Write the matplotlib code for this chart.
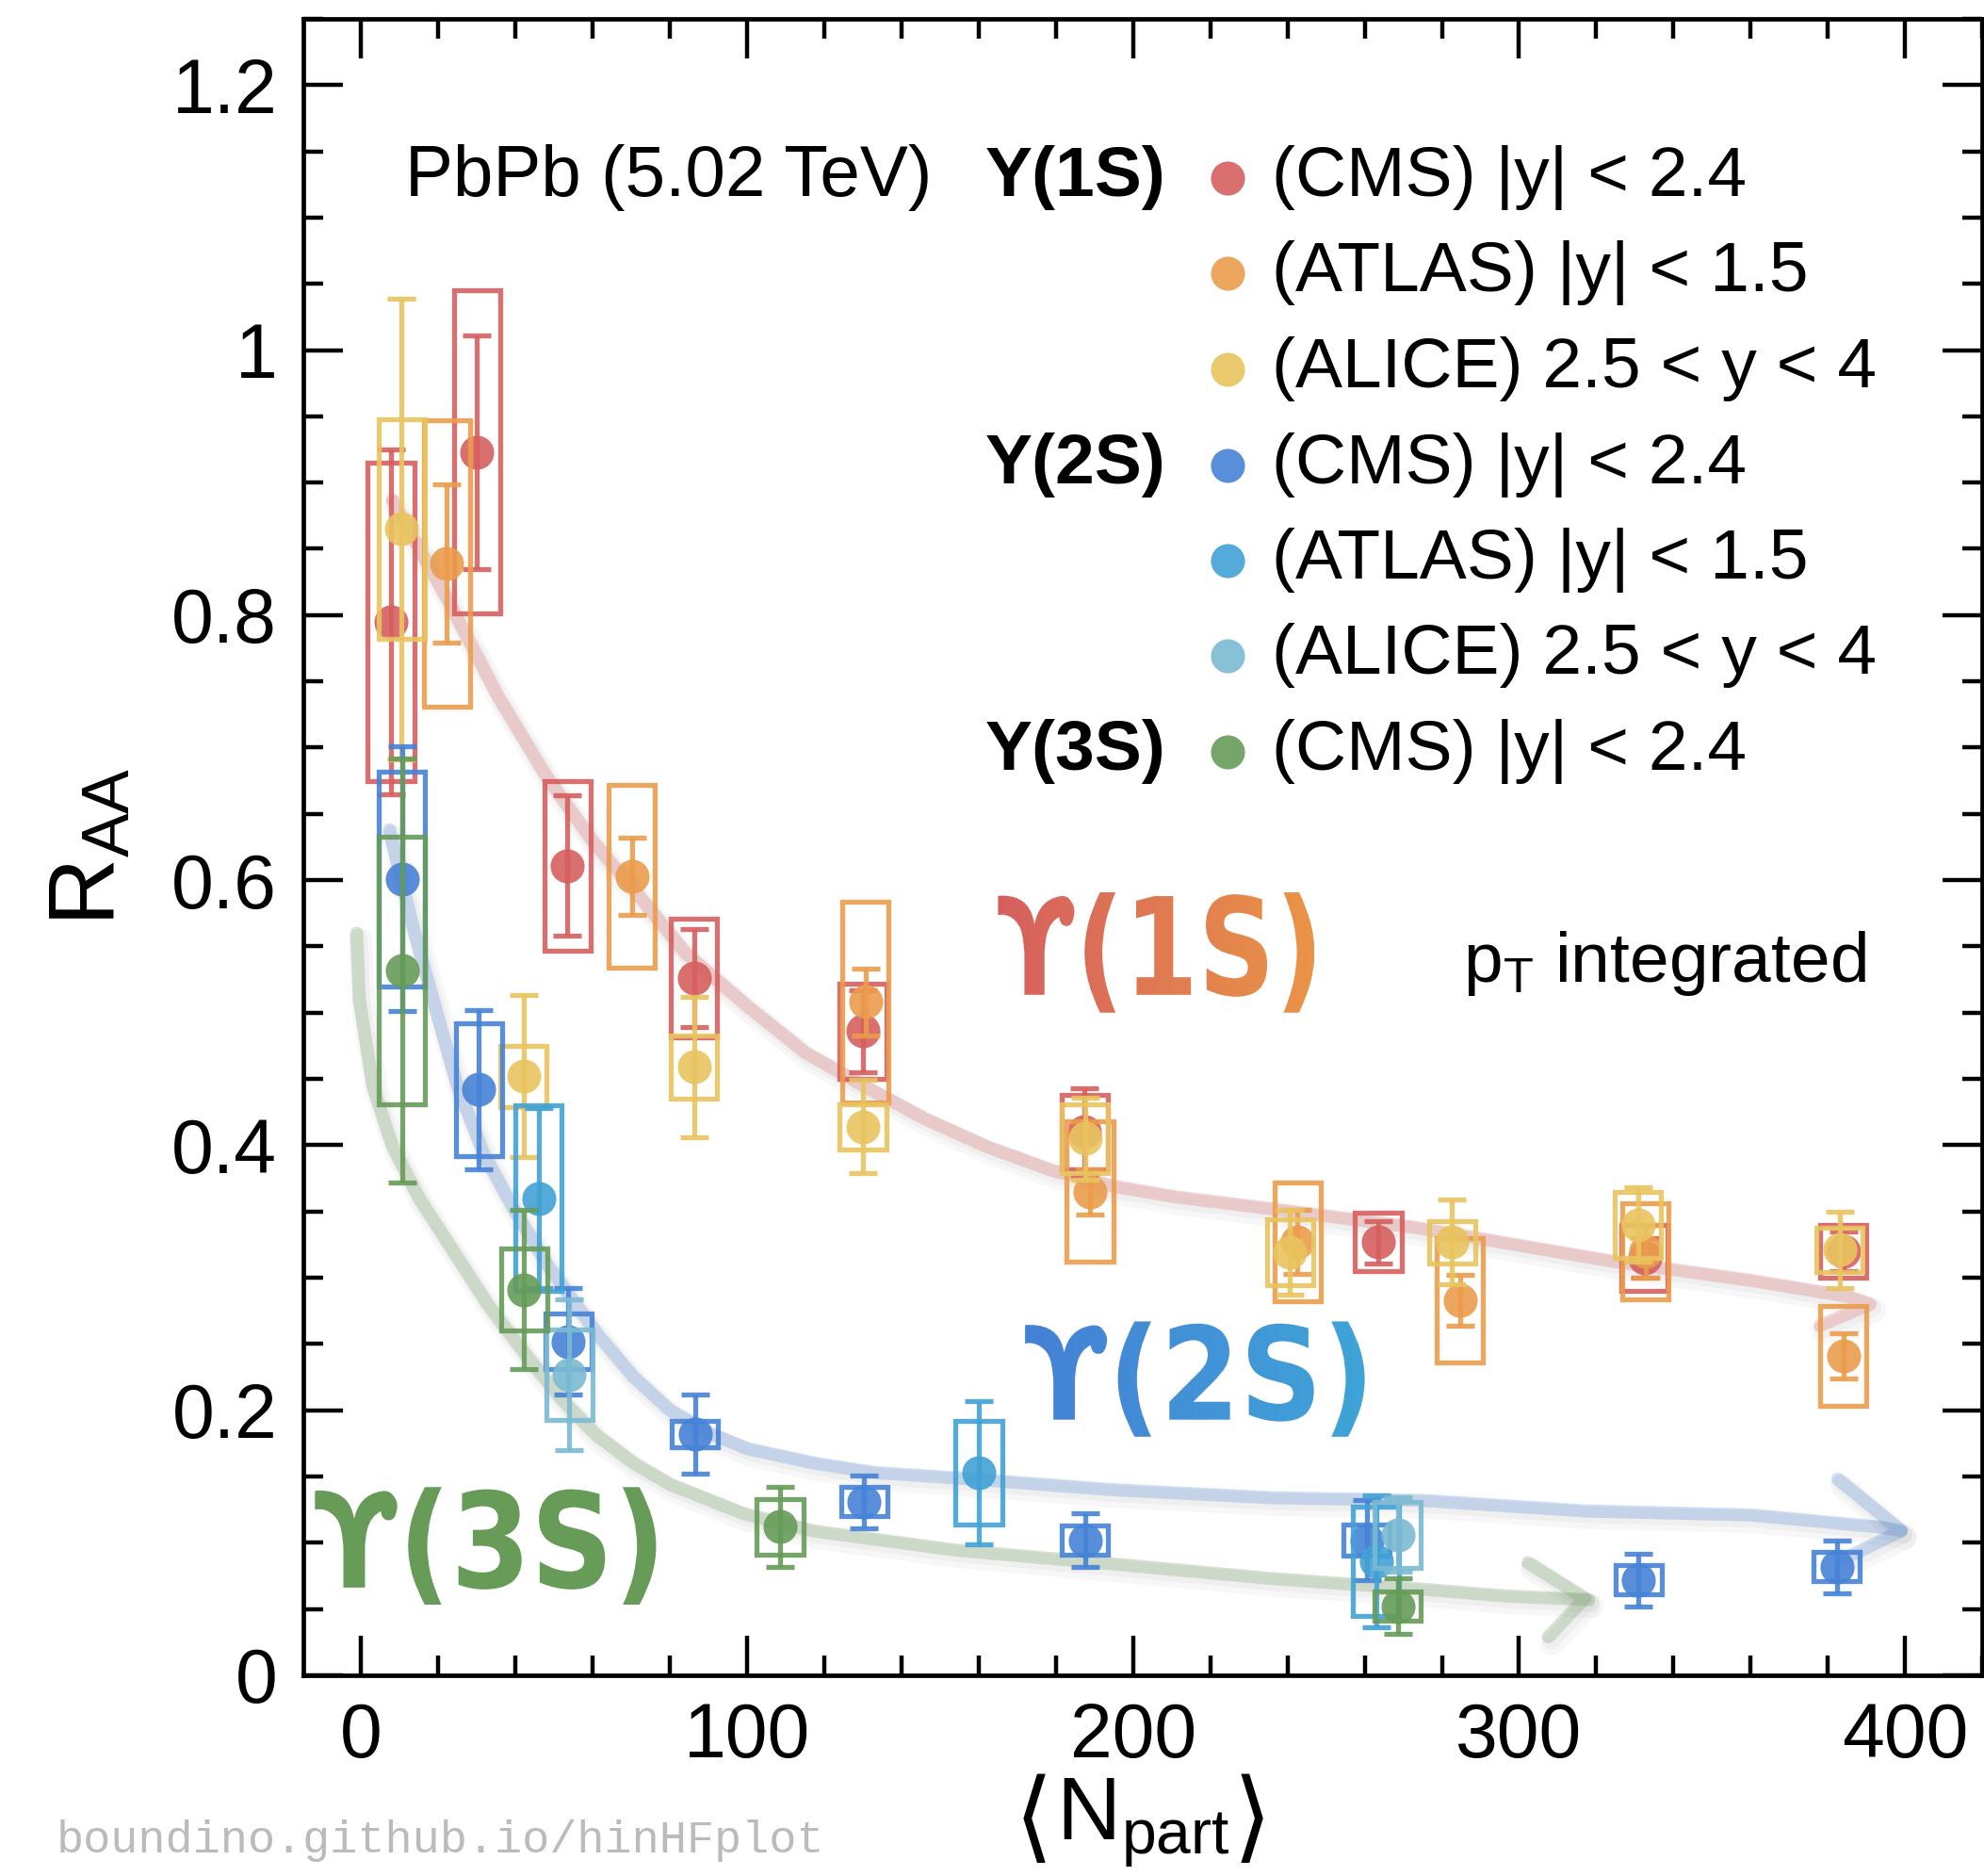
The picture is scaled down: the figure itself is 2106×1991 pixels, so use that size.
import numpy as np
import matplotlib
matplotlib.use("Agg")
import matplotlib.pyplot as plt
import matplotlib.patheffects as pe
from matplotlib.patches import Rectangle, PathPatch
from matplotlib.ticker import MultipleLocator, FormatStrFormatter
from matplotlib.textpath import TextPath
from matplotlib.font_manager import FontProperties
from matplotlib.transforms import Affine2D, BboxTransformTo, Bbox
from matplotlib.colors import LinearSegmentedColormap

plt.rcParams['font.family'] = ['Liberation Sans', 'DejaVu Sans']
plt.rcParams['mathtext.fontset'] = 'custom'
plt.rcParams['mathtext.rm'] = 'Liberation Sans'
plt.rcParams['mathtext.it'] = 'Liberation Sans:italic'
plt.rcParams['mathtext.bf'] = 'Liberation Sans:bold'

# ---- Y(1S) ----
cms1s_npart = [7.7, 30.0, 53.4, 86.2, 130.0, 187.4, 263.5, 332.5, 384.0]
cms1s_raa   = [0.795, 0.923, 0.611, 0.526, 0.486, 0.410, 0.327, 0.315, 0.320]
cms1s_stat  = [0.130, 0.088, 0.053, 0.037, 0.031, 0.033, 0.016, 0.015, 0.015]
cms1s_syst  = [0.120, 0.122, 0.064, 0.045, 0.036, 0.028, 0.022, 0.025, 0.020]

atlas1s_npart = [22.2, 70.1, 130.7, 188.8, 242.6, 284.7, 332.8, 384.0]
atlas1s_raa   = [0.839, 0.603, 0.508, 0.365, 0.327, 0.283, 0.320, 0.241]
atlas1s_stat  = [0.060, 0.029, 0.025, 0.017, 0.024, 0.019, 0.020, 0.017]
atlas1s_syst  = [0.108, 0.069, 0.076, 0.053, 0.045, 0.047, 0.036, 0.038]

alice1s_npart = [10.5, 42.0, 86.2, 130.0, 187.5, 240.6, 282.6, 330.8, 383.0]
alice1s_raa   = [0.865, 0.452, 0.459, 0.414, 0.405, 0.319, 0.327, 0.340, 0.321]
alice1s_stat  = [0.174, 0.061, 0.053, 0.035, 0.031, 0.032, 0.032, 0.028, 0.029]
alice1s_syst  = [0.083, 0.023, 0.024, 0.017, 0.026, 0.025, 0.016, 0.025, 0.017]

# ---- Y(2S) ----
cms2s_npart = [10.6, 30.5, 53.7, 86.5, 130.3, 187.5, 260.5, 331.0, 382.3]
cms2s_raa   = [0.601, 0.442, 0.252, 0.182, 0.131, 0.102, 0.102, 0.072, 0.082]
cms2s_stat  = [0.100, 0.060, 0.040, 0.030, 0.020, 0.020, 0.030, 0.020, 0.020]
cms2s_syst  = [0.081, 0.050, 0.021, 0.010, 0.011, 0.011, 0.012, 0.011, 0.011]

atlas2s_npart = [45.9, 160.0, 263.0]
atlas2s_raa   = [0.360, 0.153, 0.086]
atlas2s_stat  = [0.068, 0.054, 0.050]
atlas2s_syst  = [0.070, 0.039, 0.041]

alice2s_npart = [53.9, 268.6]
alice2s_raa   = [0.227, 0.106]
alice2s_stat  = [0.057, 0.028]
alice2s_syst  = [0.034, 0.025]

# ---- Y(3S) ----
cms3s_npart = [10.6, 42.2, 108.5, 268.6]
cms3s_raa   = [0.532, 0.291, 0.112, 0.052]
cms3s_stat  = [0.160, 0.060, 0.030, 0.021]
cms3s_syst  = [0.101, 0.031, 0.021, 0.011]

# hand-drawn guide strokes (Npart, RAA)
guide1s_x = [8, 22.5, 35.4, 47.6, 59.8, 72, 84, 100, 115, 130, 146, 162, 179, 195, 211,
             236, 273, 323, 360, 385, 391, 378]
guide1s_y = [0.887, 0.811, 0.739, 0.680, 0.630, 0.588, 0.545, 0.505, 0.470, 0.445, 0.420,
             0.399, 0.381, 0.369, 0.361, 0.352, 0.338, 0.313, 0.298, 0.286, 0.280, 0.264]
guide2s_x = [7.3, 13.4, 19, 25, 32, 39.5, 48.4, 61.3, 70.6, 80, 90, 100, 117.5, 133,
             154, 195, 236, 275, 317, 360, 393, 399]
guide2s_y = [0.638, 0.565, 0.506, 0.444, 0.392, 0.352, 0.309, 0.257, 0.225, 0.200,
             0.183, 0.171, 0.160, 0.153, 0.149, 0.140, 0.134, 0.132, 0.124, 0.121, 0.112, 0.109]
head2s_x = [382.6, 399, 385]
head2s_y = [0.148, 0.109, 0.089]
guide3s_x = [-1.2, -0.5, 3, 8, 15, 25, 33, 42.6, 52, 61, 70.6, 80, 99, 117, 154,
             195, 236, 275, 296, 318]
guide3s_y = [0.560, 0.510, 0.445, 0.400, 0.360, 0.315, 0.279, 0.242, 0.208, 0.181,
             0.160, 0.144, 0.122, 0.109, 0.0945, 0.084, 0.073, 0.065, 0.060, 0.057]
head3s_x = [302.3, 317, 307.6]
head3s_y = [0.085, 0.058, 0.029]

c_cms1s = '#d65f5f'
c_atlas1s = '#eb9c4c'
c_alice1s = '#e9c45f'
c_cms2s = '#4682d6'
c_atlas2s = '#41a2d6'
c_alice2s = '#7bbad2'
c_cms3s = '#669b58'

fig = plt.figure(figsize=(10.53, 9.955), dpi=200)
ax = fig.add_axes([0.1529, 0.1070, 0.8462, 0.8830])

shadow = [pe.SimpleLineShadow(offset=(1.5, -2.5), shadow_color='#000000', alpha=0.03, linewidth=9),
          pe.SimpleLineShadow(offset=(1, -1.5), shadow_color='#000000', alpha=0.03, linewidth=6.5),
          pe.Normal()]


def guide(xs, ys, color):
    ax.plot(xs, ys, color=color, alpha=0.25, lw=5, solid_capstyle='round',
            solid_joinstyle='round', zorder=2, path_effects=shadow)


guide(guide1s_x, guide1s_y, c_cms1s)
guide(guide2s_x, guide2s_y, c_cms2s)
guide(head2s_x, head2s_y, c_cms2s)
guide(guide3s_x, guide3s_y, c_cms3s)
guide(head3s_x, head3s_y, c_cms3s)


def hand_label(s, x0, x1, y0, y1, c0, c1):
    tp = TextPath((0, 0), s, size=1, prop=FontProperties(family='DejaVu Sans', weight='bold'))
    ext = tp.get_extents()
    tr = (Affine2D().translate(-ext.x0, -ext.y0).scale(1 / ext.width, 1 / ext.height)
          + BboxTransformTo(Bbox([[x0, y0], [x1, y1]])) + ax.transData)
    patch = PathPatch(tp, transform=tr, facecolor='none', edgecolor='none')
    ax.add_patch(patch)
    cmap = LinearSegmentedColormap.from_list('hand', [c0, c1])
    grad = np.linspace(0, 1, 256).reshape(1, -1)
    im = ax.imshow(grad, extent=(x0, x1, y0, y1), cmap=cmap, aspect='auto',
                   origin='lower', zorder=3, interpolation='bilinear')
    im.set_clip_path(patch)


hand_label('\u03d2(1S)', 165, 247, 0.500, 0.591, '#d65f5f', '#ea9446')
hand_label('\u03d2(2S)', 172, 260, 0.180, 0.267, '#4580d6', '#3fa4d8')
hand_label('\u03d2(3S)', -12, 76.4, 0.053, 0.142, '#679b58', '#679b58')

BOX_HW = 6.0


def draw_series(npart, raa, stat, syst, color, z):
    for x, y, s in zip(npart, raa, syst):
        ax.add_patch(Rectangle((x - BOX_HW, y - s), 2 * BOX_HW, 2 * s, fill=False,
                               edgecolor=color, lw=1.9, alpha=0.9, zorder=z))
    ax.errorbar(npart, raa, yerr=stat, fmt='o', color=color, ms=13, mec='none',
                capsize=5.4, capthick=1.9, elinewidth=1.9, alpha=0.9, zorder=z)


draw_series(cms1s_npart, cms1s_raa, cms1s_stat, cms1s_syst, c_cms1s, 5)
draw_series(atlas1s_npart, atlas1s_raa, atlas1s_stat, atlas1s_syst, c_atlas1s, 6)
draw_series(alice1s_npart, alice1s_raa, alice1s_stat, alice1s_syst, c_alice1s, 7)
draw_series(cms2s_npart, cms2s_raa, cms2s_stat, cms2s_syst, c_cms2s, 8)
draw_series(atlas2s_npart, atlas2s_raa, atlas2s_stat, atlas2s_syst, c_atlas2s, 9)
draw_series(alice2s_npart, alice2s_raa, alice2s_stat, alice2s_syst, c_alice2s, 10)
draw_series(cms3s_npart, cms3s_raa, cms3s_stat, cms3s_syst, c_cms3s, 11)

ax.set_xlim(-15, 420)
ax.set_ylim(0, 1.25)
ax.xaxis.set_major_locator(MultipleLocator(100))
ax.xaxis.set_minor_locator(MultipleLocator(20))
ax.yaxis.set_major_locator(MultipleLocator(0.2))
ax.yaxis.set_minor_locator(MultipleLocator(0.05))
ax.yaxis.set_major_formatter(FormatStrFormatter('%g'))
ax.tick_params(which='both', direction='in', top=True, right=True, width=1.6,
               labelsize=29)
ax.tick_params(which='major', length=15, pad=10)
ax.tick_params(which='minor', length=7.5)
for sp in ax.spines.values():
    sp.set_linewidth(1.7)

# x label built from pieces so the angle brackets stay thin
npart_lab = ax.text(0.5, -0.099, r'$\mathrm{N}_{\mathrm{part}}$', transform=ax.transAxes,
                    fontsize=34, ha='center', va='baseline')
ax.annotate('\u27e8', xy=(0, 0.5), xycoords=npart_lab, xytext=(-1, 0),
            textcoords='offset points', fontsize=38, family='DejaVu Sans',
            ha='right', va='center')
ax.annotate('\u27e9', xy=(1, 0.5), xycoords=npart_lab, xytext=(1, 0),
            textcoords='offset points', fontsize=38, family='DejaVu Sans',
            ha='left', va='center')
ax.set_ylabel(r'$\mathrm{R}_{\mathrm{AA}}$', fontsize=36, labelpad=14)

# legend block
ax.text(0.0606, 0.904, 'PbPb (5.02 TeV)', transform=ax.transAxes, fontsize=27.5,
        ha='left', va='center')
rows = [0.9039, 0.8464, 0.7884, 0.7304, 0.6729, 0.6155, 0.5575]
entries = [('Y(1S)', c_cms1s, '(CMS) |y| < 2.4'),
           ('', c_atlas1s, '(ATLAS) |y| < 1.5'),
           ('', c_alice1s, '(ALICE) 2.5 < y < 4'),
           ('Y(2S)', c_cms2s, '(CMS) |y| < 2.4'),
           ('', c_atlas2s, '(ATLAS) |y| < 1.5'),
           ('', c_alice2s, '(ALICE) 2.5 < y < 4'),
           ('Y(3S)', c_cms3s, '(CMS) |y| < 2.4')]
for yr, (head, col, lab) in zip(rows, entries):
    if head:
        ax.text(0.514, yr, head, transform=ax.transAxes, fontsize=27,
                fontweight='bold', ha='right', va='center')
    ax.plot([0.5505], [yr], 'o', color=col, ms=13, mec='none', alpha=0.9,
            transform=ax.transAxes, clip_on=False, zorder=12)
    ax.text(0.577, yr, lab, transform=ax.transAxes, fontsize=27, ha='left', va='center')

ax.text(0.931, 0.4295, r'$\mathrm{p}_{\mathrm{T}}$ integrated', transform=ax.transAxes,
        fontsize=27, ha='right', va='center')

fig.text(60 / 2106, 1 - 1954 / 1991, 'boundino.github.io/hinHFplot',
         family='Liberation Mono', color='#bbbbbb', fontsize=17.5, ha='left', va='center')

fig.savefig('out.png', dpi=200)
